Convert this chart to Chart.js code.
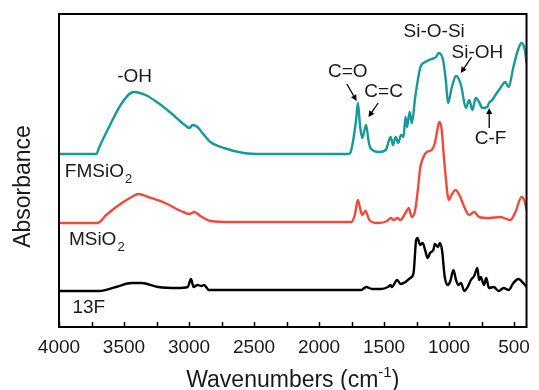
<!DOCTYPE html>
<html>
<head>
<meta charset="utf-8">
<script src="https://cdn.jsdelivr.net/npm/chart.js@4/dist/chart.umd.min.js"></script>
<style>
html,body{margin:0;padding:0;background:#fff;}
#wrap{width:539px;height:390px;position:relative;}
</style>
</head>
<body>
<div id="wrap"><canvas id="c" width="539" height="390"></canvas></div>
<script>
// ---- data (wavenumber in cm-1, absorbance in arbitrary offset units) ----
const fmWave = [4000,3850,3713,3690,3615,3516,3426,3335,3237,3139,3033,2996,2973,2935,2897,2835,2731,2580,2430,1779,1760,1741,1715,1701,1685,1668,1650,1638,1620,1605,1537,1487,1449,1431,1411,1391,1369,1350,1335,1323,1303,1286,1260,1222,1184,1134,1100,1079,1046,1025,1008,980,946,908,870,845,820,795,769,744,706,693,668,643,605,568,542,505,470,442,417,404];
const fmAbs  = [1.73,1.73,1.73,1.80,2.00,2.24,2.35,2.32,2.24,2.14,2.02,1.99,2.02,2.00,1.94,1.85,1.79,1.74,1.73,1.73,1.74,1.84,2.07,2.24,2.02,1.89,1.97,2.02,1.87,1.79,1.75,1.77,1.90,1.82,1.90,1.84,1.92,1.90,2.10,2.00,2.15,2.04,2.30,2.59,2.65,2.68,2.70,2.74,2.67,2.47,2.24,2.39,2.51,2.42,2.19,2.27,2.17,2.29,2.25,2.19,2.20,2.24,2.27,2.32,2.39,2.45,2.40,2.60,2.77,2.84,2.77,2.64];

const mWave = [4000,3705,3637,3539,3441,3388,3313,3184,3063,2996,2959,2912,2835,2683,1751,1725,1701,1685,1668,1643,1613,1550,1475,1449,1424,1399,1374,1335,1311,1286,1260,1240,1222,1197,1172,1134,1109,1090,1076,1059,1033,1001,985,951,920,883,845,807,769,693,605,530,492,442,417,404];
const mAbs  = [1.04,1.04,1.12,1.22,1.30,1.33,1.30,1.24,1.16,1.13,1.15,1.11,1.06,1.05,1.05,1.12,1.27,1.19,1.12,1.16,1.07,1.04,1.06,1.09,1.07,1.09,1.07,1.14,1.19,1.10,1.17,1.37,1.59,1.70,1.75,1.77,1.84,1.97,2.05,2.00,1.60,1.27,1.31,1.37,1.32,1.20,1.12,1.15,1.10,1.09,1.10,1.07,1.14,1.30,1.25,1.17];

const fWave = [4000,3690,3562,3441,3365,3237,3086,3010,2985,2965,2935,2905,2884,2847,2700,1675,1638,1590,1524,1470,1449,1440,1399,1373,1335,1298,1273,1253,1243,1222,1203,1184,1164,1146,1121,1109,1084,1071,1054,1033,1008,990,966,946,928,908,883,857,832,807,782,769,756,731,714,693,656,618,580,542,505,467,429,404];
const fAbs  = [0.36,0.36,0.40,0.44,0.44,0.40,0.39,0.40,0.48,0.40,0.42,0.41,0.42,0.37,0.37,0.37,0.40,0.38,0.38,0.40,0.42,0.40,0.47,0.43,0.45,0.49,0.54,0.87,0.89,0.82,0.84,0.77,0.69,0.74,0.77,0.83,0.80,0.84,0.77,0.50,0.42,0.46,0.57,0.47,0.42,0.44,0.36,0.40,0.47,0.51,0.59,0.47,0.50,0.42,0.49,0.39,0.40,0.36,0.39,0.37,0.44,0.48,0.44,0.40];

const xTickLabels = [4000,3500,3000,2500,2000,1500,1000,500];
const seriesNames = ['FMSiO2','MSiO2','13F'];

// annotation texts (anchor in data units)
const peakLabels = [
  {text:'-OH', w:3418, a:2.45, align:'center'},
  {text:'FMSiO', sub:'2', w:3955, a:1.50, align:'left'},
  {text:'MSiO', sub:'2', w:3924, a:0.82, align:'left'},
  {text:'13F', w:3897, a:0.14, align:'left'},
  {text:'C=O', w:1779, a:2.50, align:'center'},
  {text:'C=C', w:1503, a:2.30, align:'center'},
  {text:'Si-O-Si', w:1114, a:2.90, align:'center'},
  {text:'Si-OH', w:782, a:2.69, align:'center'},
  {text:'C-F', w:680, a:1.83, align:'center'}
];
const arrows = [
  {from:[1786,2.43], to:[1711,2.26]},
  {from:[1545,2.24], to:[1620,2.10]},
  {from:[827,2.70], to:[910,2.54]},
  {from:[691,1.99], to:[691,2.19]}
];

const FONT = '"Liberation Sans", Arial, Helvetica, sans-serif';
const TXT = '#1a1a1a';

function pts(ws, as){ return ws.map((w,i)=>({x:w, y:as[i]})); }

const decor = {
  id:'decor',
  afterDatasetsDraw(chart){
    const ctx = chart.ctx, ca = chart.chartArea;
    const xs = chart.scales.x, ys = chart.scales.y;
    ctx.save();
    // frame
    ctx.strokeStyle = '#000'; ctx.lineWidth = 2;
    ctx.strokeRect(ca.left, ca.top, ca.right-ca.left, ca.bottom-ca.top);
    // inward ticks every 250
    ctx.lineWidth = 1.5;
    for (let v=500; v<=4000; v+=250){
      const px = Math.round(xs.getPixelForValue(v))+0.5;
      ctx.beginPath(); ctx.moveTo(px, ca.bottom); ctx.lineTo(px, ca.bottom-5); ctx.stroke();
    }
    // labels
    ctx.fillStyle = TXT; ctx.textBaseline = 'alphabetic';
    peakLabels.forEach(l=>{
      const px = xs.getPixelForValue(l.w), py = ys.getPixelForValue(l.a);
      ctx.font = '19px '+FONT;
      const mw = ctx.measureText(l.text).width;
      let sw = 0;
      if (l.sub){ ctx.font = '13px '+FONT; sw = ctx.measureText(l.sub).width; }
      const total = mw + sw;
      const x0 = l.align==='center' ? px - total/2 : px;
      ctx.font = '19px '+FONT; ctx.textAlign = 'left';
      ctx.fillText(l.text, x0, py);
      if (l.sub){ ctx.font = '13px '+FONT; ctx.fillText(l.sub, x0+mw+1, py+6); }
    });
    // arrows
    ctx.strokeStyle = '#000'; ctx.fillStyle = '#000'; ctx.lineWidth = 1.3;
    arrows.forEach(a=>{
      const x1 = xs.getPixelForValue(a.from[0]), y1 = ys.getPixelForValue(a.from[1]);
      const x2 = xs.getPixelForValue(a.to[0]), y2 = ys.getPixelForValue(a.to[1]);
      const ang = Math.atan2(y2-y1, x2-x1), hl = 6, hw = 3;
      const bx = x2 - hl*Math.cos(ang), by = y2 - hl*Math.sin(ang);
      ctx.beginPath(); ctx.moveTo(x1,y1); ctx.lineTo(bx,by); ctx.stroke();
      ctx.beginPath();
      ctx.moveTo(x2,y2);
      ctx.lineTo(bx + hw*Math.sin(ang), by - hw*Math.cos(ang));
      ctx.lineTo(bx - hw*Math.sin(ang), by + hw*Math.cos(ang));
      ctx.closePath(); ctx.fill();
    });
    // axis titles
    ctx.fillStyle = TXT;
    const cx = (ca.left+ca.right)/2;
    ctx.font = '23px '+FONT;
    const t1 = 'Wavenumbers (cm', t3 = ')';
    const w1 = ctx.measureText(t1).width, w3 = ctx.measureText(t3).width;
    ctx.font = '15px '+FONT;
    const t2 = '-1'; const w2 = ctx.measureText(t2).width;
    const start = cx - (w1+w2+w3)/2;
    const base = 387;
    ctx.textAlign = 'left';
    ctx.font = '23px '+FONT; ctx.fillText(t1, start, base);
    ctx.font = '15px '+FONT; ctx.fillText(t2, start+w1, base-10);
    ctx.font = '23px '+FONT; ctx.fillText(t3, start+w1+w2, base);
    // y title
    ctx.save();
    ctx.translate(30, (ca.top+ca.bottom)/2 + 16);
    ctx.rotate(-Math.PI/2);
    ctx.textAlign = 'center';
    ctx.font = '23px '+FONT;
    ctx.fillText('Absorbance', 0, 0);
    ctx.restore();
    ctx.restore();
  }
};

new Chart(document.getElementById('c'), {
  type:'line',
  data:{
    datasets:[
      {label:seriesNames[0], data:pts(fmWave,fmAbs), borderColor:'#16999a', borderWidth:2.4},
      {label:seriesNames[1], data:pts(mWave,mAbs), borderColor:'#f04a3c', borderWidth:2.4},
      {label:seriesNames[2], data:pts(fWave,fAbs), borderColor:'#000000', borderWidth:2.4}
    ]
  },
  options:{
    responsive:false, animation:false,
    layout:{padding:{top:14, right:4, left:0, bottom:0}},
    elements:{point:{radius:0}, line:{tension:0, cubicInterpolationMode:'monotone', fill:false}},
    plugins:{legend:{display:false}, tooltip:{enabled:false}},
    scales:{
      x:{
        type:'linear', reverse:true, min:404, max:4000,
        grid:{display:false, drawTicks:false},
        border:{display:false},
        afterBuildTicks(s){ s.ticks = xTickLabels.map(v=>({value:v})); },
        afterFit(s){ s.height = 63; },
        ticks:{color:TXT, font:{size:19, family:FONT}, padding:9, maxRotation:0, autoSkip:false,
               callback:(v)=>String(v)}
      },
      y:{
        type:'linear', min:0, max:3.13,
        grid:{display:false, drawTicks:false},
        border:{display:false},
        ticks:{display:false},
        afterFit(s){ s.width = 59; }
      }
    }
  },
  plugins:[decor]
});
</script>
</body>
</html>
